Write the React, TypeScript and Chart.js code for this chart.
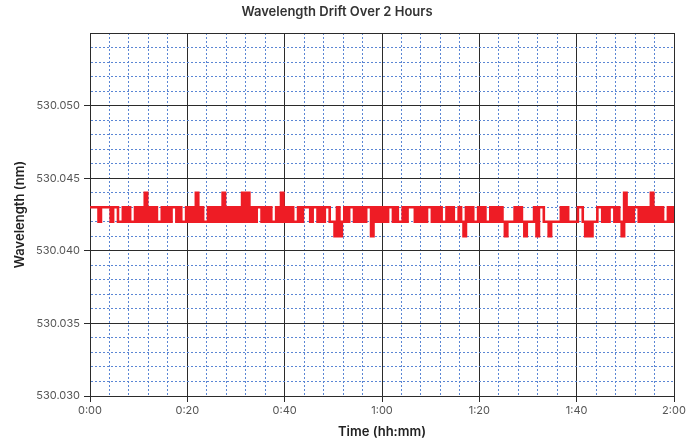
import React, { useEffect, useRef } from "react";
import { Chart, registerables } from "chart.js";

Chart.register(...registerables);

// Sample interval in minutes
const SAMPLE_STEP_MIN = 0.5;
// Wavelength readings, each digit d means 530.04d nm (one reading every 0.5 min)
const readingDigits: string[] = [
  "33332333323322323223", // 0:00 - 0:09.5
  "23242323223232332322", // 0:10 - 0:19.5
  "32324232232323242323", // 0:20 - 0:29.5
  "23242423233232322324", // 0:30 - 0:39.5
  "23232232333233232332", // 0:40 - 0:49.5
  "21312323323232331323", // 0:50 - 0:59.5
  "23233232232333232323", // 1:00 - 1:09.5
  "32323223232232132322", // 1:10 - 1:19.5
  "32322323232122232321", // 1:20 - 1:29.5
  "22231332212222323222", // 1:30 - 1:39.5
  "23321212233232332321", // 1:40 - 1:49.5
  "423233232324232322323", // 1:50 - 2:00
];
const wavelengthValues: number[] = readingDigits
  .join("")
  .split("")
  .map((d) => 530.04 + Number(d) / 1000);
const timeMinutes: number[] = wavelengthValues.map((_, i) => i * SAMPLE_STEP_MIN);

const yMin = 530.03;
const yMax = 530.055;
const yLabelMax = 530.05;
const xMin = 0;
const xMax = 120;

const TITLE = "Wavelength Drift Over 2 Hours";
const X_TITLE = "Time (hh:mm)";
const Y_TITLE = "Wavelength (nm)";

const FONT = "Inter, 'Open Sans', sans-serif";
const MAJOR = "#2b2b2b";
const MINOR = "#5b86d4";

function yIsMajor(v: number) {
  return Math.round(v * 1000) % 5 === 0;
}
function xIsMajor(v: number) {
  return Math.round(v) % 20 === 0;
}

export default function App() {
  const ref = useRef<HTMLCanvasElement | null>(null);
  useEffect(() => {
    if (!ref.current) return;
    const chart = new Chart(ref.current, {
      type: "line",
      data: {
        datasets: [
          {
            data: timeMinutes.map((t, i) => ({ x: t, y: wavelengthValues[i] })),
            borderColor: "#ee1c25",
            borderWidth: 2.6,
            pointRadius: 0,
            stepped: "middle",
            fill: false,
          },
        ],
      },
      options: {
        responsive: false,
        animation: false,
        layout: { padding: { left: 0, right: 25, top: 0, bottom: 0 } },
        plugins: {
          legend: { display: false },
          tooltip: { enabled: false },
          title: {
            display: true,
            text: TITLE,
            color: "#333",
            font: { family: FONT, size: 13, weight: "600", lineHeight: 1.2 },
            padding: { top: 4, bottom: 13.4 },
          },
        },
        scales: {
          x: {
            type: "linear",
            min: xMin,
            max: xMax,
            afterFit: (s: any) => {
              s.height = 46;
            },
            ticks: {
              stepSize: 4,
              autoSkip: false,
              maxRotation: 0,
              padding: 2,
              color: "#555",
              font: { family: FONT, size: 11 },
              callback: (v: any) => {
                const n = Number(v);
                if (!xIsMajor(n)) return "";
                const h = Math.floor(n / 60);
                const m = Math.round(n % 60);
                return `${h}:${String(m).padStart(2, "0")}`;
              },
            },
            grid: {
              lineWidth: 1,
              tickLength: 6,
              color: (c: any) => (c.tick && xIsMajor(c.tick.value) ? MAJOR : MINOR),
              tickColor: (c: any) =>
                c.tick && xIsMajor(c.tick.value) ? MAJOR : "rgba(0,0,0,0)",
            },
            border: {
              display: true,
              color: MAJOR,
              width: 1,
              dash: (c: any) => (c.tick && !xIsMajor(c.tick.value) ? [2, 2] : []),
            },
            title: {
              display: true,
              text: X_TITLE,
              color: "#222",
              font: { family: FONT, size: 13, weight: "600", lineHeight: 1.2 },
              padding: { top: 2, bottom: 2 },
            },
          },
          y: {
            type: "linear",
            min: yMin,
            max: yMax,
            afterFit: (s: any) => {
              s.width = 90;
            },
            ticks: {
              stepSize: 0.001,
              autoSkip: false,
              padding: 4,
              color: "#555",
              font: { family: FONT, size: 11 },
              callback: (v: any) => {
                const n = Number(v);
                if (!yIsMajor(n) || n > yLabelMax + 0.0001) return "";
                return n.toFixed(3);
              },
            },
            grid: {
              lineWidth: 1,
              tickLength: 6,
              color: (c: any) => (c.tick && yIsMajor(c.tick.value) ? MAJOR : MINOR),
              tickColor: (c: any) =>
                c.tick && yIsMajor(c.tick.value) && c.tick.value < yMax - 0.0001
                  ? MAJOR
                  : "rgba(0,0,0,0)",
            },
            border: {
              display: true,
              color: MAJOR,
              width: 1,
              dash: (c: any) => (c.tick && !yIsMajor(c.tick.value) ? [2, 2] : []),
            },
            title: {
              display: true,
              text: Y_TITLE,
              color: "#222",
              font: { family: FONT, size: 13, weight: "600", lineHeight: 1.2 },
              padding: { top: 12, bottom: 2 },
            },
          },
        },
      },
    } as any);
    return () => chart.destroy();
  }, []);
  return (
    <div
      style={{
        position: "fixed",
        left: 0,
        top: 0,
        width: 699,
        height: 442,
        background: "#fff",
      }}
    >
      <canvas ref={ref} width={699} height={442} />
    </div>
  );
}
